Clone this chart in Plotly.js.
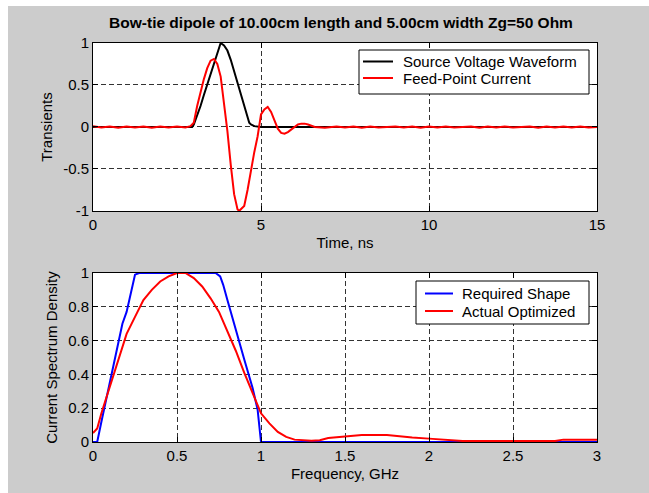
<!DOCTYPE html>
<html>
<head>
<meta charset="utf-8">
<script src="https://cdn.plot.ly/plotly-3.0.1.min.js"></script>
<style>
  html, body { margin: 0; padding: 0; background: #ffffff; width: 649px; height: 493px; overflow: hidden; }
  #chart { position: absolute; left: 8px; top: 6px; width: 641px; height: 487px; }
</style>
</head>
<body>
<div id="chart"></div>
<script>
// ---- Top panel: transients ----
const voltTime  = [0, 2.95, 3.0, 3.1, 3.2, 3.3, 3.4, 3.5, 3.6, 3.7, 3.8, 3.9, 4.0, 4.1, 4.2, 4.3, 4.4, 4.5, 4.6, 4.65, 4.7, 4.8, 5.0, 15];
const voltValue = [0, 0, 0.03, 0.13, 0.25, 0.38, 0.51, 0.63, 0.75, 0.88, 1.0, 0.97, 0.91, 0.8, 0.66, 0.53, 0.39, 0.25, 0.11, 0.05, 0.03, 0.01, 0, 0];

const currTime  = [0, 0.25, 0.5, 0.75, 1.0, 1.25, 1.5, 1.75, 2.0, 2.25, 2.5, 2.75, 2.9, 3.0, 3.1, 3.2, 3.3, 3.4, 3.5, 3.6, 3.7, 3.8, 3.9, 4.0, 4.1, 4.2, 4.3, 4.35, 4.4, 4.5, 4.6, 4.7, 4.8, 4.9, 5.0, 5.1, 5.2, 5.3, 5.4, 5.5, 5.6, 5.7, 5.8, 5.9, 6.0, 6.1, 6.2, 6.3, 6.4, 6.6, 6.9, 7.25, 7.5, 7.75, 8.0, 8.25, 8.5, 8.75, 9.0, 9.25, 9.5, 9.75, 10.0, 10.25, 10.5, 10.75, 11.0, 11.25, 11.5, 11.75, 12.0, 12.25, 12.5, 12.75, 13.0, 13.25, 13.5, 13.75, 14.0, 14.25, 14.5, 14.75, 15.0];
const currValue = [0.01, -0.005, 0.005, -0.01, 0.005, -0.005, 0.005, -0.01, 0.005, -0.005, 0.005, -0.005, 0.01, 0.05, 0.25, 0.42, 0.57, 0.7, 0.79, 0.81, 0.75, 0.6, 0.3, -0.05, -0.45, -0.8, -0.98, -1.0, -0.98, -0.94, -0.75, -0.51, -0.3, -0.11, 0.15, 0.21, 0.24, 0.18, 0.08, -0.02, -0.07, -0.08, -0.06, -0.03, 0.0, 0.03, 0.04, 0.04, 0.03, 0.0, -0.01, 0.005, -0.005, 0.005, -0.01, 0.005, -0.005, 0.0, 0.005, -0.005, 0.005, -0.01, 0.005, -0.005, 0.005, -0.005, 0.0, 0.005, -0.01, 0.005, -0.005, 0.005, -0.005, 0.0, 0.005, -0.01, 0.005, -0.005, 0.005, -0.005, 0.005, -0.005, 0.0];

// ---- Bottom panel: spectrum ----
const reqFreq  = [0, 0.025, 0.05, 0.1, 0.15, 0.175, 0.2, 0.225, 0.25, 0.275, 0.73, 0.757, 0.775, 0.8, 0.85, 0.9, 0.95, 0.975, 0.98, 1.0, 3.0];
const reqValue = [0, 0, 0.12, 0.36, 0.6, 0.7, 0.77, 0.88, 0.99, 1.0, 1.0, 0.98, 0.93, 0.84, 0.66, 0.49, 0.32, 0.21, 0.19, 0, 0];

const actFreq  = [0, 0.025, 0.05, 0.075, 0.1, 0.125, 0.15, 0.2, 0.25, 0.3, 0.35, 0.4, 0.45, 0.5, 0.55, 0.6, 0.65, 0.7, 0.75, 0.8, 0.85, 0.9, 0.95, 1.0, 1.05, 1.1, 1.15, 1.2, 1.3, 1.35, 1.4, 1.5, 1.6, 1.75, 1.8, 1.9, 2.0, 2.1, 2.2, 2.75, 2.8, 3.0];
const actValue = [0.053, 0.08, 0.17, 0.25, 0.33, 0.41, 0.49, 0.64, 0.74, 0.84, 0.9, 0.95, 0.98, 1.0, 1.0, 0.97, 0.92, 0.85, 0.77, 0.66, 0.54, 0.41, 0.29, 0.17, 0.11, 0.06, 0.03, 0.014, 0.008, 0.01, 0.024, 0.032, 0.042, 0.042, 0.036, 0.026, 0.02, 0.012, 0.006, 0.006, 0.014, 0.014];

const topXTicks = [0, 5, 10, 15];
const topYTicks = [-1, -0.5, 0, 0.5, 1];
const botXTicks = [0, 0.5, 1, 1.5, 2, 2.5, 3];
const botYTicks = [0, 0.2, 0.4, 0.6, 0.8, 1];

const topNames = ['Source Voltage Waveform', 'Feed-Point Current'];
const botNames = ['Required Shape', 'Actual Optimized'];
const COLORS = {volt: '#000000', curr: '#ff0000', req: '#0000ff', act: '#ff0000'};

const FONT = 'Liberation Sans, Arial, Helvetica, sans-serif';

const W = 641, H = 487;
const M = {l: 85, r: 52, t: 37, b: 51};
const PW = W - M.l - M.r, PH = H - M.t - M.b;
const px = X => (X - M.l) / PW;   // div pixel -> paper x
const py = Y => (M.t + PH - Y) / PH; // div pixel -> paper y

const traces = [
  {x: voltTime, y: voltValue, type: 'scatter', mode: 'lines', name: topNames[0],
   line: {color: COLORS.volt, width: 2}, xaxis: 'x', yaxis: 'y'},
  {x: currTime, y: currValue, type: 'scatter', mode: 'lines', name: topNames[1],
   line: {color: COLORS.curr, width: 2}, xaxis: 'x', yaxis: 'y'},
  {x: reqFreq, y: reqValue, type: 'scatter', mode: 'lines', name: botNames[0],
   line: {color: COLORS.req, width: 2}, xaxis: 'x2', yaxis: 'y2'},
  {x: actFreq, y: actValue, type: 'scatter', mode: 'lines', name: botNames[1],
   line: {color: COLORS.act, width: 2}, xaxis: 'x2', yaxis: 'y2'}
];

function ax(extra) {
  return Object.assign({
    showline: true, linecolor: '#000000', linewidth: 1, mirror: 'allticks',
    ticks: 'inside', ticklen: 5, tickcolor: '#000000', tickwidth: 1,
    showgrid: true, gridcolor: '#333333', gridwidth: 1, griddash: '5px,3px',
    zeroline: false, tickfont: {family: FONT, size: 15, color: '#000000'},
    fixedrange: true
  }, extra);
}

// custom legends (box, sample lines, labels)
const shapes = [];
const annotations = [];
function addLegend(box, lineX0, lineX1, textX, rowsY, names, colors) {
  shapes.push({type: 'rect', xref: 'paper', yref: 'paper',
    x0: px(box[0]), x1: px(box[1]), y0: py(box[2]), y1: py(box[3]),
    fillcolor: '#ffffff', line: {color: '#000000', width: 1}, layer: 'above'});
  names.forEach((n, i) => {
    shapes.push({type: 'line', xref: 'paper', yref: 'paper',
      x0: px(lineX0), x1: px(lineX1), y0: py(rowsY[i]), y1: py(rowsY[i]),
      line: {color: colors[i], width: 2}, layer: 'above'});
    annotations.push({xref: 'paper', yref: 'paper', x: px(textX), y: py(rowsY[i]),
      xanchor: 'left', yanchor: 'middle', showarrow: false, text: n,
      font: {family: FONT, size: 15, color: '#000000'}});
  });
}
addLegend([351, 581, 44, 88], 355, 385, 393, [55.5, 72], topNames, [COLORS.volt, COLORS.curr]);
addLegend([408, 581, 275, 318], 417, 445, 452, [287.5, 305], botNames, [COLORS.req, COLORS.act]);

const layout = {
  width: W, height: H,
  paper_bgcolor: '#cccccc', plot_bgcolor: '#ffffff',
  margin: M,
  font: {family: FONT, size: 15, color: '#000000'},
  title: {text: '<b>Bow-tie dipole of 10.00cm length and 5.00cm width Zg=50 Ohm</b>',
          font: {family: FONT, size: 15.5, color: '#000000'},
          x: (333) / W, xref: 'container', xanchor: 'center', y: 1 - 17 / H, yref: 'container', yanchor: 'middle'},
  showlegend: false,
  xaxis: ax({domain: [0, 1], anchor: 'y', range: [0, 15], tickvals: topXTicks,
             title: {text: 'Time, ns', font: {family: FONT, size: 15}, standoff: 5}}),
  yaxis: ax({domain: [0.579, 1], anchor: 'x', range: [-1, 1], tickvals: topYTicks,
             ticktext: ['-1', '-0.5', '0', '0.5', '1'],
             title: {text: 'Transients', font: {family: FONT, size: 15}, standoff: 6}}),
  xaxis2: ax({domain: [0, 1], anchor: 'y2', range: [0, 3], tickvals: botXTicks,
              ticktext: ['0', '0.5', '1', '1.5', '2', '2.5', '3'],
              title: {text: 'Frequency, GHz', font: {family: FONT, size: 15}, standoff: 5}}),
  yaxis2: ax({domain: [0, 0.4236], anchor: 'x2', range: [0, 1], tickvals: botYTicks,
              ticktext: ['0', '0.2', '0.4', '0.6', '0.8', '1'],
              title: {text: 'Current Spectrum Density', font: {family: FONT, size: 15}, standoff: 6}}),
  shapes: shapes,
  annotations: annotations
};

Plotly.newPlot('chart', traces, layout, {displayModeBar: false, staticPlot: true});
</script>
</body>
</html>
